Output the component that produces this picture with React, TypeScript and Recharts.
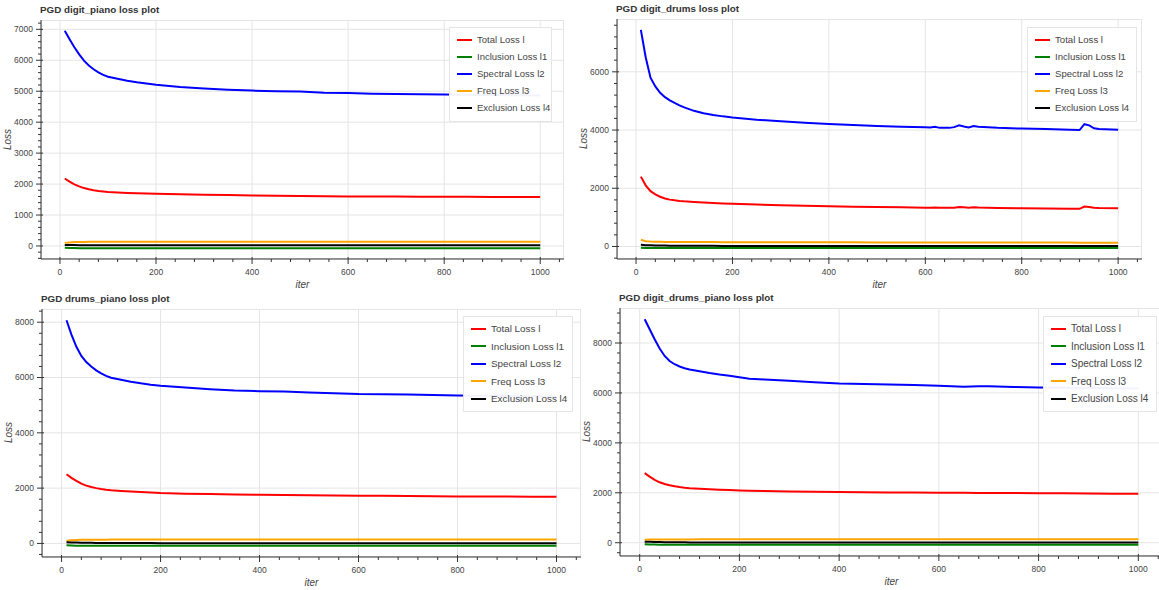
import React from 'react';
import { LineChart, Line, XAxis, YAxis, CartesianGrid } from 'recharts';

const FONT = '"Liberation Sans", Arial, Helvetica, sans-serif';

// series names + colours (bokeh named colours)
const SERIES = [
  { key: 'total', name: 'Total Loss l', color: '#ff0000' },
  { key: 'incl', name: 'Inclusion Loss l1', color: '#008000' },
  { key: 'spec', name: 'Spectral Loss l2', color: '#0000ff' },
  { key: 'freq', name: 'Freq Loss l3', color: '#ffa500' },
  { key: 'excl', name: 'Exclusion Loss l4', color: '#000000' },
];

const X_MAJOR = [0, 200, 400, 600, 800, 1000];

// ---- PGD digit_piano ----
const p1Iter = [10, 20, 30, 40, 50, 60, 70, 80, 90, 100, 120, 140, 160, 180, 200, 250, 300, 350, 400, 450, 500, 550, 600, 650, 700, 750, 800, 850, 900, 950, 1000];
const p1Total = [2180, 2080, 1990, 1925, 1870, 1830, 1800, 1775, 1760, 1745, 1730, 1715, 1705, 1695, 1690, 1670, 1655, 1645, 1630, 1625, 1615, 1605, 1600, 1598, 1595, 1592, 1590, 1588, 1585, 1582, 1580];
const p1Spec = [6950, 6680, 6420, 6190, 5990, 5830, 5710, 5610, 5530, 5470, 5400, 5340, 5290, 5250, 5210, 5140, 5090, 5050, 5020, 5000, 4990, 4950, 4940, 4920, 4910, 4900, 4890, 4885, 4880, 4870, 4860];
const p1Freq = [100, 115, 125, 130, 132, 134, 135, 136, 137, 138, 138, 139, 139, 140, 140, 140, 140, 140, 140, 140, 140, 140, 140, 140, 140, 140, 140, 140, 140, 140, 140];
const p1Excl = [35, 30, 28, 26, 25, 24, 23, 22, 22, 21, 21, 20, 20, 20, 20, 20, 20, 20, 20, 20, 20, 20, 20, 20, 20, 20, 20, 20, 20, 20, 20];
const p1Incl = [-60, -65, -68, -70, -70, -70, -70, -70, -70, -70, -70, -70, -70, -70, -70, -70, -70, -70, -70, -70, -70, -70, -70, -70, -70, -70, -70, -70, -70, -70, -70];

// ---- PGD digit_drums ----
const p2Iter = [10, 20, 30, 40, 50, 60, 70, 80, 90, 100, 120, 140, 160, 180, 200, 250, 300, 350, 400, 450, 500, 550, 600, 610, 620, 630, 650, 660, 670, 680, 690, 700, 710, 730, 750, 800, 850, 900, 920, 930, 940, 950, 960, 1000];
const p2Total = [2400, 2100, 1900, 1790, 1710, 1650, 1610, 1585, 1565, 1550, 1530, 1510, 1495, 1480, 1465, 1440, 1420, 1400, 1380, 1365, 1355, 1345, 1335, 1335, 1338, 1330, 1330, 1335, 1355, 1345, 1335, 1350, 1340, 1335, 1325, 1315, 1305, 1300, 1295, 1370, 1360, 1330, 1320, 1310];
const p2Spec = [7440, 6500, 5800, 5500, 5280, 5130, 5020, 4930, 4850, 4780, 4660, 4580, 4520, 4470, 4430, 4355, 4300, 4250, 4205, 4170, 4140, 4110, 4095, 4090, 4110, 4075, 4075, 4100, 4160, 4120, 4090, 4140, 4110, 4100, 4080, 4050, 4035, 4010, 4000, 4200, 4160, 4060, 4040, 4010];
const p2Freq = [230, 180, 170, 165, 160, 158, 156, 155, 154, 153, 152, 151, 150, 149, 148, 146, 145, 144, 143, 142, 141, 140, 139, 139, 139, 139, 138, 138, 138, 138, 138, 137, 137, 137, 136, 135, 134, 133, 132, 132, 132, 131, 131, 130];
const p2Excl = [60, 45, 40, 35, 32, 30, 28, 27, 26, 25, 24, 23, 22, 21, 21, 20, 20, 20, 20, 20, 20, 20, 20, 20, 20, 20, 20, 20, 20, 20, 20, 20, 20, 20, 20, 20, 20, 20, 20, 20, 20, 20, 20, 20];
const p2Incl = [-40, -50, -55, -55, -55, -55, -55, -55, -55, -55, -55, -55, -55, -55, -55, -55, -55, -55, -55, -55, -55, -55, -55, -55, -55, -55, -55, -55, -55, -55, -55, -55, -55, -55, -55, -55, -55, -55, -55, -55, -55, -55, -55, -55];

// ---- PGD drums_piano ----
const p3Iter = [10, 20, 30, 40, 50, 60, 70, 80, 90, 100, 120, 140, 160, 180, 200, 250, 300, 350, 400, 450, 500, 550, 600, 650, 700, 750, 800, 850, 900, 950, 1000];
const p3Total = [2500, 2370, 2260, 2160, 2090, 2040, 2000, 1970, 1945, 1925, 1900, 1880, 1860, 1840, 1820, 1800, 1785, 1770, 1760, 1750, 1745, 1735, 1725, 1720, 1715, 1710, 1700, 1698, 1695, 1692, 1690];
const p3Spec = [8070, 7550, 7110, 6780, 6560, 6400, 6260, 6150, 6060, 5990, 5920, 5850, 5790, 5740, 5700, 5640, 5580, 5530, 5505, 5490, 5460, 5430, 5400, 5395, 5390, 5370, 5350, 5340, 5330, 5320, 5310];
const p3Freq = [100, 115, 125, 130, 132, 134, 135, 136, 137, 138, 138, 139, 139, 140, 140, 140, 140, 140, 140, 140, 140, 140, 140, 140, 140, 140, 140, 140, 140, 140, 140];
const p3Excl = [40, 35, 30, 28, 25, 22, 20, 18, 16, 15, 14, 13, 12, 12, 11, 10, 10, 10, 10, 10, 10, 10, 10, 10, 10, 10, 10, 10, 10, 10, 10];
const p3Incl = [-70, -75, -80, -82, -83, -83, -83, -83, -83, -83, -83, -83, -83, -83, -83, -83, -83, -83, -83, -83, -83, -83, -83, -83, -83, -83, -83, -83, -83, -83, -83];

// ---- PGD digit_drums_piano ----
const p4Iter = [10, 20, 30, 40, 50, 60, 70, 80, 90, 100, 120, 140, 160, 180, 200, 220, 250, 300, 350, 400, 450, 500, 550, 600, 650, 680, 700, 750, 800, 850, 900, 950, 1000];
const p4Total = [2790, 2650, 2520, 2420, 2350, 2300, 2260, 2230, 2205, 2185, 2160, 2140, 2125, 2110, 2095, 2085, 2070, 2055, 2040, 2030, 2022, 2015, 2008, 2000, 1998, 1996, 1995, 1990, 1985, 1978, 1970, 1965, 1960];
const p4Spec = [8950, 8550, 8150, 7780, 7480, 7280, 7150, 7060, 6990, 6940, 6870, 6800, 6740, 6690, 6630, 6570, 6540, 6490, 6430, 6380, 6360, 6340, 6320, 6290, 6250, 6270, 6265, 6240, 6220, 6210, 6200, 6190, 6180];
const p4Freq = [120, 125, 128, 130, 131, 132, 133, 133, 134, 134, 135, 135, 135, 135, 135, 135, 135, 135, 135, 135, 135, 135, 135, 135, 135, 135, 135, 135, 135, 135, 135, 135, 135];
const p4Excl = [40, 35, 30, 26, 22, 20, 18, 16, 15, 14, 13, 12, 12, 11, 11, 10, 10, 10, 10, 10, 10, 10, 10, 10, 10, 10, 10, 10, 10, 10, 10, 10, 10];
const p4Incl = [-60, -70, -75, -78, -80, -80, -80, -80, -80, -80, -80, -80, -80, -80, -80, -80, -80, -80, -80, -80, -80, -80, -80, -80, -80, -80, -80, -80, -80, -80, -80, -80, -80];

type Box = { left: number; top: number; w: number; h: number };
type Lg = { left: number; top: number; w: number; h: number; fs: number; row: number };

const makeTicks = (lo: number, hi: number, step: number) => {
  const out: number[] = [];
  for (let v = Math.ceil(lo / step) * step; v <= hi; v += step) out.push(v);
  return out;
};

const XTick = (props: any) => {
  const { x, y, payload } = props;
  const v = payload.value;
  const isMajor = v % 200 === 0;
  return (
    <g>
      <line x1={x} x2={x} y1={y - (isMajor ? 2 : 0)} y2={y + (isMajor ? 5 : 3)} stroke="#333" />
      {isMajor && (
        <text x={x} y={y + 13} dy="0.35em" textAnchor="middle" fontSize={8.5} fill="#444" fontFamily={FONT}>
          {v}
        </text>
      )}
    </g>
  );
};

const YTick = (props: any) => {
  const { x, y, payload, major } = props;
  const v = payload.value;
  const isMajor = v % major === 0;
  return (
    <g>
      <line x1={x - (isMajor ? 5 : 3)} x2={x + (isMajor ? 2 : 0)} y1={y} y2={y} stroke="#333" />
      {isMajor && (
        <text x={x - 8} y={y} dy="0.35em" textAnchor="end" fontSize={8.5} fill="#444" fontFamily={FONT}>
          {v}
        </text>
      )}
    </g>
  );
};

function Panel(p: {
  title: string;
  iter: number[];
  total: number[];
  incl: number[];
  spec: number[];
  freq: number[];
  excl: number[];
  yMajor: number;
  box: Box;
  lg: Lg;
}) {
  const { box, lg, yMajor } = p;
  const rows = p.iter.map((it, i) => ({
    iter: it,
    total: p.total[i],
    incl: p.incl[i],
    spec: p.spec[i],
    freq: p.freq[i],
    excl: p.excl[i],
  }));
  // bokeh-style auto range: 5% padding each side
  const all = [...p.total, ...p.incl, ...p.spec, ...p.freq, ...p.excl];
  const yMin = Math.min(...all);
  const yMax = Math.max(...all);
  const yPad = (yMax - yMin) * 0.05;
  const yDomain = [yMin - yPad, yMax + yPad];
  const xPad = (p.iter[p.iter.length - 1] - p.iter[0]) * 0.05;
  const xDomain = [p.iter[0] - xPad, p.iter[p.iter.length - 1] + xPad];
  const yMajors = makeTicks(yDomain[0], yDomain[1], yMajor);
  const yTicks = makeTicks(yDomain[0], yDomain[1], yMajor / 5);
  const xTicks = makeTicks(xDomain[0], xDomain[1], 40);

  return (
    <>
      <div
        style={{
          position: 'absolute',
          left: box.left - 1,
          top: box.top - 16,
          fontFamily: FONT,
          fontWeight: 'bold',
          fontSize: 9.8,
          color: '#333',
          whiteSpace: 'nowrap',
        }}
      >
        {p.title}
      </div>
      <div
        style={{
          position: 'absolute',
          left: box.left,
          top: box.top,
          width: box.w,
          height: box.h,
          border: '1px solid #e5e5e5',
          boxSizing: 'border-box',
        }}
      />
      <div style={{ position: 'absolute', left: box.left - 40, top: box.top - 20 }}>
        <LineChart width={box.w + 40} height={box.h + 56} data={rows} margin={{ top: 20, right: 0, bottom: 0, left: 0 }}>
          <CartesianGrid stroke="#e5e5e5" horizontalValues={yMajors} verticalValues={X_MAJOR} />
          <XAxis
            type="number"
            dataKey="iter"
            domain={xDomain}
            ticks={xTicks}
            interval={0}
            height={36}
            tickSize={0}
            tickMargin={0}
            tickLine={false}
            axisLine={{ stroke: '#333' }}
            tick={(t: any) => <XTick {...t} />}
          />
          <YAxis
            type="number"
            domain={yDomain}
            ticks={yTicks}
            interval={0}
            width={40}
            tickSize={0}
            tickMargin={0}
            tickLine={false}
            axisLine={{ stroke: '#333' }}
            tick={(t: any) => <YTick {...t} major={yMajor} />}
          />
          {SERIES.map((s) => (
            <Line
              key={s.key}
              type="linear"
              dataKey={s.key}
              stroke={s.color}
              strokeWidth={2}
              dot={false}
              isAnimationActive={false}
            />
          ))}
        </LineChart>
      </div>
      <div
        style={{
          position: 'absolute',
          left: box.left + box.w / 2 - 20,
          width: 40,
          top: box.top + box.h + 20,
          textAlign: 'center',
          fontFamily: FONT,
          fontStyle: 'italic',
          fontSize: 10,
          color: '#444',
        }}
      >
        iter
      </div>
      <div
        style={{
          position: 'absolute',
          left: box.left - 54,
          width: 40,
          top: box.top + box.h / 2 - 6,
          textAlign: 'center',
          fontFamily: FONT,
          fontStyle: 'italic',
          fontSize: 10,
          color: '#444',
          transform: 'rotate(-90deg)',
        }}
      >
        Loss
      </div>
      <div
        style={{
          position: 'absolute',
          left: lg.left,
          top: lg.top,
          width: lg.w,
          height: lg.h,
          background: 'rgba(255,255,255,0.95)',
          border: '1px solid #e5e5e5',
          boxSizing: 'border-box',
          fontFamily: FONT,
          fontSize: lg.fs,
          color: '#444',
        }}
      >
        {SERIES.map((s, i) => (
          <div
            key={s.key}
            style={{
              position: 'absolute',
              left: 7,
              top: 3 + i * lg.row,
              height: lg.row,
              display: 'flex',
              alignItems: 'center',
              whiteSpace: 'nowrap',
            }}
          >
            <span style={{ display: 'inline-block', width: 15, height: 2, background: s.color, marginRight: 5 }} />
            {s.name}
          </div>
        ))}
      </div>
    </>
  );
}

export default function App() {
  return (
    <div style={{ position: 'absolute', left: 0, top: 0, width: 1159, height: 590, overflow: 'hidden', background: '#fff' }}>
      <Panel
        title="PGD digit_piano loss plot"
        iter={p1Iter}
        total={p1Total}
        incl={p1Incl}
        spec={p1Spec}
        freq={p1Freq}
        excl={p1Excl}
        yMajor={1000}
        box={{ left: 41, top: 20, w: 523, h: 239 }}
        lg={{ left: 449, top: 27, w: 103, h: 95, fs: 9.5, row: 17 }}
      />
      <Panel
        title="PGD digit_drums loss plot"
        iter={p2Iter}
        total={p2Total}
        incl={p2Incl}
        spec={p2Spec}
        freq={p2Freq}
        excl={p2Excl}
        yMajor={2000}
        box={{ left: 617, top: 19, w: 525, h: 240 }}
        lg={{ left: 1027, top: 27, w: 110, h: 95, fs: 9.6, row: 17 }}
      />
      <Panel
        title="PGD drums_piano loss plot"
        iter={p3Iter}
        total={p3Total}
        incl={p3Incl}
        spec={p3Spec}
        freq={p3Freq}
        excl={p3Excl}
        yMajor={2000}
        box={{ left: 42, top: 309, w: 539, h: 248 }}
        lg={{ left: 463, top: 316, w: 110, h: 96, fs: 9.9, row: 17.5 }}
      />
      <Panel
        title="PGD digit_drums_piano loss plot"
        iter={p4Iter}
        total={p4Total}
        incl={p4Incl}
        spec={p4Spec}
        freq={p4Freq}
        excl={p4Excl}
        yMajor={2000}
        box={{ left: 620, top: 308, w: 543, h: 248 }}
        lg={{ left: 1043, top: 316, w: 114, h: 96, fs: 10, row: 17.5 }}
      />
    </div>
  );
}
